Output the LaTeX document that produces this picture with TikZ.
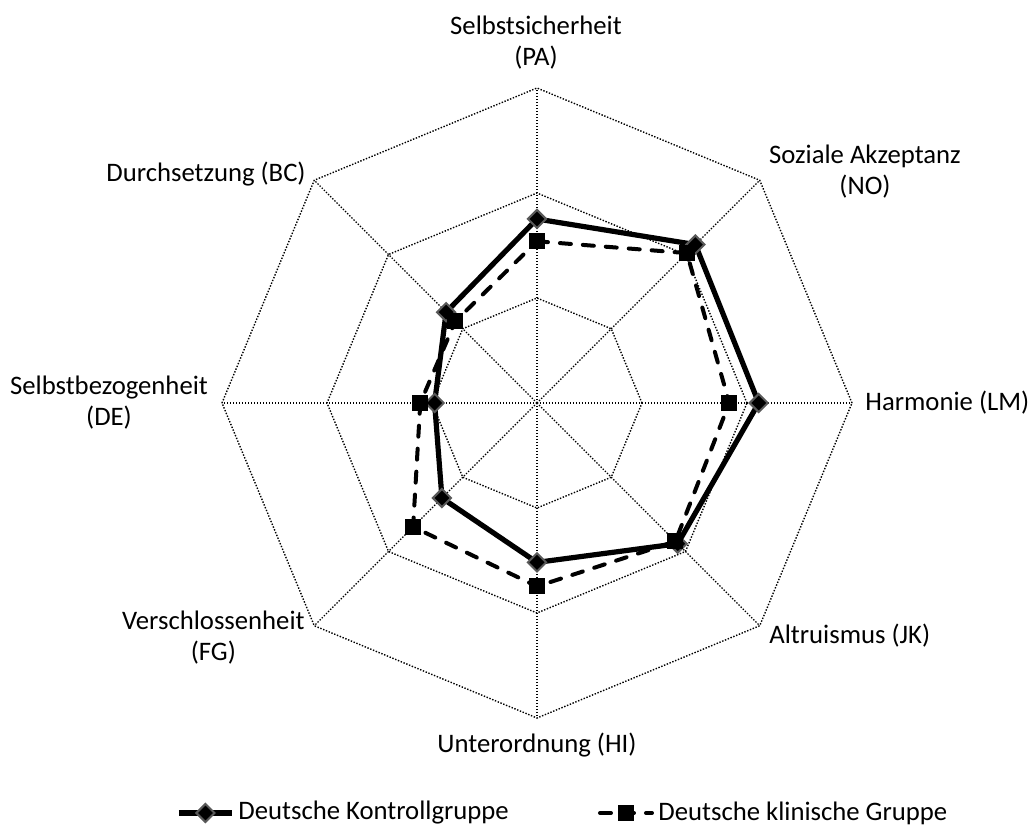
\documentclass[tikz,border=0pt]{standalone}
\usepackage{fontspec}
\setmainfont{Carlito}
\usetikzlibrary{shapes.geometric, positioning}
\definecolor{mkborder}{HTML}{595959}

\begin{document}
\begin{tikzpicture}[
        x=0.5pt, y=0.5pt,
        font=\fontsize{13.35}{15.5}\selectfont,
        web/.style = {draw=black, line width=0.7pt, dash pattern=on 0.7pt off 0.8pt},
        ctrl/.style = {draw=black, line width=2.6pt, line join=round},
        clin/.style = {draw=black, line width=2pt, dash pattern=on 5.5pt off 6pt, line cap=round, line join=round},
        dmark/.style = {diamond, fill=black, draw=mkborder, line width=1pt, minimum size=9.5pt, inner sep=0pt},
        smark/.style = {rectangle, fill=black, draw=black, minimum size=7.5pt, inner sep=0pt},
        lbl/.style = {align=center, inner sep=0pt}
    ]
        \useasboundingbox (-537,-427) rectangle (493,403);

        % Web
        \foreach \r in {105,210,315}
            \draw[web] (0:\r) -- (45:\r) -- (90:\r) -- (135:\r) -- (180:\r) -- (225:\r) -- (270:\r) -- (315:\r) -- cycle;
        \coordinate (o) at (0,0);
        \foreach \a in {0,45,...,315} {
            \coordinate (v\a) at (\a:315);
            \draw[web] (o) -- (v\a);
        }

        % Values
        \foreach \i/\a/\rc/\rk in {1/90/184/161.7, 2/45/224/212, 3/0/221.7/192.3, 4/-45/199/195.7,
                                   5/-90/159.4/183.4, 6/-135/134.4/175.2, 7/180/102.4/116.7, 8/135/128.5/115.5} {
            \coordinate (c\i) at (\a:\rc);
            \coordinate (k\i) at (\a:\rk);
        }

        % Kontrollgruppe
        \draw[ctrl] (c1) -- (c2) -- (c3) -- (c4) -- (c5) -- (c6) -- (c7) -- (c8) -- cycle;
        \foreach \i in {1,...,8}
            \node[dmark] (dm\i) at (c\i) {};

        % klinische Gruppe
        \draw[clin] (k1) -- (k2) -- (k3) -- (k4) -- (k5) -- (k6) -- (k7) -- (k8) -- cycle;
        \foreach \i in {1,...,8}
            \node[smark] (sm\i) at (k\i) {};

        % Labels
        \node[lbl] (pa) at (-1,360) {Selbstsicherheit\\(PA)};
        \node[lbl] (no) at (328,231) {Soziale Akzeptanz\\(NO)};
        \node[lbl, anchor=west] (lm) at (328,0) {Harmonie (LM)};
        \node[lbl, anchor=west] (jk) at (232,-233) {Altruismus (JK)};
        \node[lbl] (hi) at (0,-342) {Unterordnung (HI)};
        \node[lbl, anchor=east] (fg) at (-232,-235) {Verschlossenheit\\(FG)};
        \node[lbl] (de) at (-428,0) {Selbstbezogenheit\\(DE)};
        \node[lbl] (bc) at (-331,229) {Durchsetzung (BC)};

        % Legend
        \coordinate (l1a) at (-358,-410);
        \coordinate (l1b) at (-305,-410);
        \draw[ctrl] (l1a) -- (l1b);
        \node[dmark] (l1m) at (-331.5,-410) {};
        \node[lbl, right=3pt of l1b] (l1t) {Deutsche Kontrollgruppe};

        \coordinate (l2a) at (63,-410);
        \coordinate (l2b) at (115,-410);
        \draw[clin] (l2a) -- (l2b);
        \node[smark] (l2m) at (89,-410) {};
        \node[lbl, right=3pt of l2b] (l2t) {Deutsche klinische Gruppe};

    \end{tikzpicture}
\end{document}
